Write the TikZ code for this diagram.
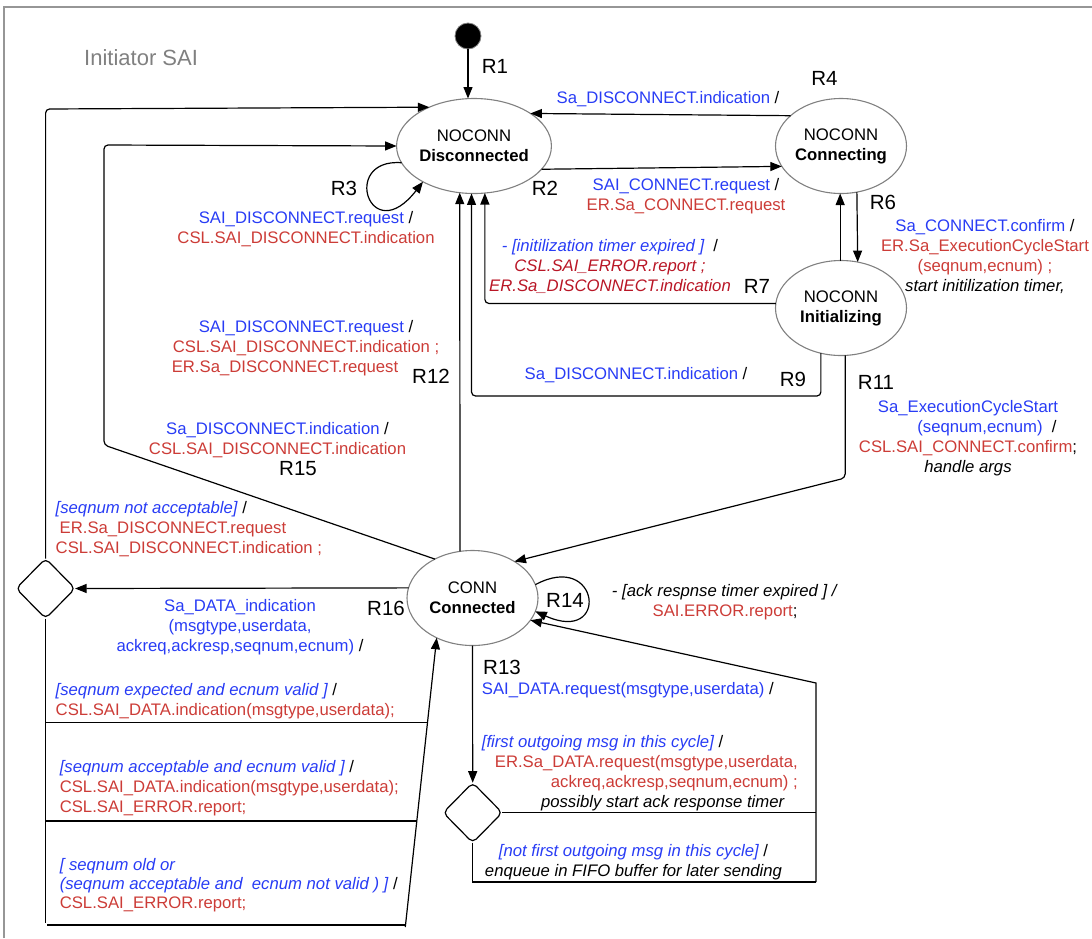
\documentclass[tikz,border=0pt]{standalone}
\usepackage{fontspec}
\setmainfont{Liberation Sans}
\usetikzlibrary{shapes.geometric,arrows.meta}
\definecolor{cblue}{RGB}{40,60,245}
\definecolor{cred}{RGB}{204,60,55}
\definecolor{cdred}{RGB}{185,22,38}
\definecolor{cgray}{RGB}{128,128,128}
\definecolor{frame}{RGB}{150,150,150}
\newcommand{\bl}[1]{\textcolor{cblue}{#1}}
\newcommand{\rd}[1]{\textcolor{cred}{#1}}
\newcommand{\dr}[1]{\textcolor{cdred}{#1}}
\begin{document}
\begin{tikzpicture}[x=1pt,y=-1pt,
  state/.style={ellipse,draw=cgray,line width=1.1pt,minimum width=131pt,minimum height=95pt,inner sep=0pt,outer sep=0pt,align=center,font=\fontsize{16.7}{20}\selectfont},
  choice/.style={diamond,draw=black,line width=1.2pt,minimum width=59pt,minimum height=60pt,inner sep=0pt,outer sep=0pt,rounded corners=5pt},
  lbl/.style={font=\fontsize{16.7}{20}\selectfont,align=center,inner sep=0pt},
  rlab/.style={font=\fontsize{20.5}{24}\selectfont,inner sep=0pt},
  conn/.style={line width=1.2pt,draw=black},
  arr/.style={conn,-{Triangle[length=11.5pt,width=9pt]}},
]
\useasboundingbox (0,0) rectangle (1092,938);
\draw[frame,line width=1.2pt] (4,938) -- (4,7) -- (1092,7);
\node[font=\fontsize{22}{26}\selectfont,text=cgray,anchor=west,inner sep=0pt] (title) at (84,58) {Initiator SAI};

% states
\node[state] (Disc) at (474,146) {NOCONN\\\textbf{Disconnected}};
\node[state] (Cing) at (841,146) {NOCONN\\\textbf{Connecting}};
\node[state] (Init) at (841,308) {NOCONN\\\textbf{Initializing}};
\node[state] (Conn) at (472.5,598) {CONN\\\textbf{Connected}};
\node[circle,fill=black,draw=cgray,line width=0.8pt,minimum size=26pt,inner sep=0pt] (start) at (468,36) {};
\node[choice] (D1) at (45.6,588.5) {};
\node[choice] (D2) at (472.7,812.7) {};

% helper coordinates
\coordinate (o1) at (45.6,109);
\coordinate (o2) at (104,445);
\coordinate (o3) at (104,145);
\coordinate (d1b) at (45.6,923);
\coordinate (h1a) at (45.6,722.7);
\coordinate (h1b) at (428,722.7);
\coordinate (h2a) at (45.6,821);
\coordinate (h2b) at (417,821);
\coordinate (h3a) at (47,925);
\coordinate (h3b) at (405.5,925);
\coordinate (sl) at (405.3,927);
\coordinate (r11c) at (845,478);
\coordinate (q1) at (816,812.7);
\coordinate (q2) at (816,683);
\coordinate (q3) at (816,882);
\coordinate (q4) at (472.7,882);

% connectors
\draw[arr] (start.south) -- (start.south |- Disc.north);
\draw[arr] (Cing.149.2) -- (Disc.30.8);
\draw[arr] (Disc.-19.7) -- (Cing.199.7);
\draw[arr] (Disc.193) .. controls (340,158) and (370,250) .. (Disc.215);
\draw[arr] (Init.91) -- (Cing.269);
\draw[arr] (Cing.289.3) -- (Init.70.7);
\draw[arr,rounded corners=4pt] (Init.176.8) -| (Disc.-77.5);
\draw[arr,rounded corners=4pt] (Init.246.7) |- (Disc.267.6 |- 0,396) -- (Disc.267.6);
\draw[arr] (Conn.105.2) -- (Disc.253);
\draw[arr,rounded corners=4pt] (Init.-85.1) -- (Init.-85.1 |- r11c) -- (Conn.41.2);
\draw[arr,rounded corners=4pt] (Conn.134.6) -- (o2) -- (o3) -- (Disc.west);
\draw[arr,rounded corners=4pt] (D1.north) -- (o1) -- (Disc.139.5);
\draw[arr] (Conn.171.4) -- (D1.east);
\draw[conn] (D1.south) -- (d1b);
\draw[conn] (h1a) -- (h1b);
\draw[conn] (h2a) -- (h2b);
\draw[conn] (h3a) -- (h3b);
\draw[arr] (sl) -- (Conn.228.5);
\draw[arr] (Conn.12) .. controls (600,550) and (610,645) .. (Conn.-12);
\draw[arr] (Conn.south) -- (D2.north);
\draw[conn] (D2.east) -- (q1);
\draw[conn] (D2.south) -- (q4) -- (q3);
\draw[arr] (q3) -- (q2) -- (Conn.-21);

% rule labels
\node[rlab] (r1) at (495,66) {R1};
\node[rlab] (r2) at (545,188) {R2};
\node[rlab] (r3) at (344,188) {R3};
\node[rlab] (r4) at (824.5,78) {R4};
\node[rlab] (r6) at (883,202) {R6};
\node[rlab] (r7) at (757,286) {R7};
\node[rlab] (r9) at (793,379) {R9};
\node[rlab] (r11) at (876,382) {R11};
\node[rlab] (r12) at (431,376) {R12};
\node[rlab] (r13) at (502,667) {R13};
\node[rlab] (r14) at (565,600) {R14};
\node[rlab] (r15) at (298,469) {R15};
\node[rlab] (r16) at (386,608) {R16};

% texts
\node[lbl] (t3) at (306,229) {\bl{SAI\_DISCONNECT.request} /\\\rd{CSL.SAI\_DISCONNECT.indication}};
\node[lbl] (t4) at (668,99) {\bl{Sa\_DISCONNECT.indication} /};
\node[lbl] (t2) at (686,196) {\bl{SAI\_CONNECT.request} /\\\rd{ER.Sa\_CONNECT.request}};
\node[lbl] (t6) at (985,257) {\bl{Sa\_CONNECT.confirm} /\\\rd{ER.Sa\_ExecutionCycleStart}\\\rd{(seqnum,ecnum) ;}\\\textit{start initilization timer,}};
\node[lbl] (t7) at (610,266.5) {\bl{\itshape - [initilization timer expired ]}\ \ /\\\dr{\itshape CSL.SAI\_ERROR.report ;}\\\dr{\itshape ER.Sa\_DISCONNECT.indication}};
\node[lbl] (t9) at (636,375) {\bl{Sa\_DISCONNECT.indication} /};
\node[lbl] (t11) at (968,438) {\bl{Sa\_ExecutionCycleStart}\\\hspace*{38pt}\bl{(seqnum,ecnum)}\ \ /\\\rd{CSL.SAI\_CONNECT.confirm};\\\textit{handle args}};
\node[lbl] (t12) at (306,348) {\bl{SAI\_DISCONNECT.request} /\\\rd{CSL.SAI\_DISCONNECT.indication ;}\\\rd{ER.Sa\_DISCONNECT.request}\hspace*{42pt}};
\node[lbl] (t15) at (277.5,440) {\bl{Sa\_DISCONNECT.indication} /\\\rd{CSL.SAI\_DISCONNECT.indication}};
\node[lbl,align=left,anchor=west] (tD1) at (55.5,529) {\bl{\itshape [seqnum not acceptable]} /\\\hspace*{4pt}\rd{ER.Sa\_DISCONNECT.request}\\\rd{CSL.SAI\_DISCONNECT.indication ;}};
\node[lbl] (t16) at (240,627) {\bl{Sa\_DATA\_indication}\\\bl{(msgtype,userdata,}\\\bl{ackreq,ackresp,seqnum,ecnum)} /};
\node[lbl,align=left,anchor=west] (b1) at (55.5,700.7) {\bl{\itshape [seqnum expected and ecnum valid ]} /\\\rd{CSL.SAI\_DATA.indication(msgtype,userdata);}};
\node[lbl,align=left,anchor=west] (b2) at (59.6,788.3) {\bl{\itshape [seqnum acceptable and ecnum valid ]} /\\\rd{CSL.SAI\_DATA.indication(msgtype,userdata);}\\\rd{CSL.SAI\_ERROR.report;}};
\node[lbl,align=left,anchor=west,font=\fontsize{16.7}{19.3}\selectfont] (b3) at (59.6,885) {\bl{\itshape [ seqnum old or}\\\bl{\itshape (seqnum acceptable and\ \ ecnum not valid ) ]} /\\\rd{CSL.SAI\_ERROR.report;}};
\node[lbl,anchor=west] (t13) at (481.7,690) {\bl{SAI\_DATA.request(msgtype,userdata)} /};
\node[lbl,anchor=west] (t13a) at (481.7,743.3) {\bl{\itshape [first outgoing msg in this cycle]} /};
\node[lbl,align=right,anchor=east] (t13b) at (798,783) {\rd{ER.Sa\_DATA.request(msgtype,userdata,}\\\rd{ackreq,ackresp,seqnum,ecnum) ;}\\\textit{possibly start ack response timer}\hspace*{13pt}};
\node[lbl] (t13c) at (633.5,862) {\bl{\itshape [not first outgoing msg in this cycle]} /\\\textit{enqueue in FIFO buffer for later sending}};
\node[lbl] (t14) at (725,602.5) {\textit{- [ack respnse timer expired ] /}\\\rd{SAI.ERROR.report};};
\end{tikzpicture}
\end{document}
